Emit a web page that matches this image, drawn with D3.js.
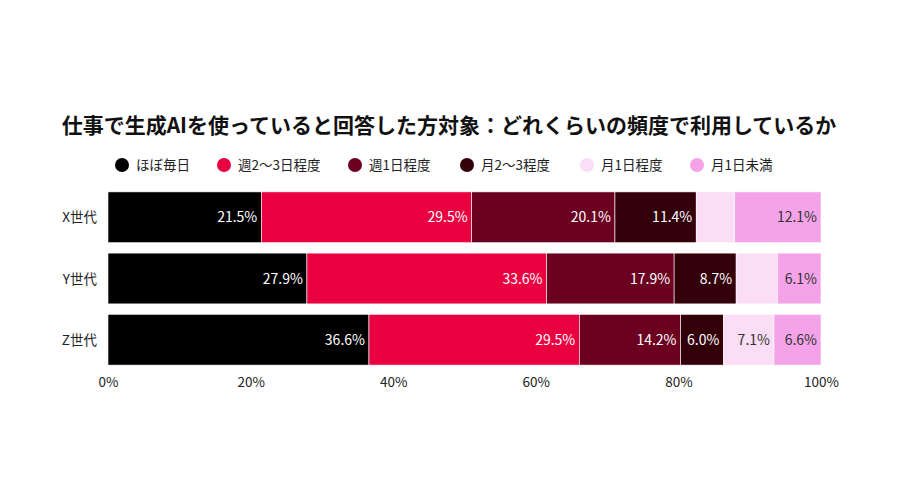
<!DOCTYPE html>
<html lang="ja">
<head>
<meta charset="utf-8">
<script src="https://cdn.jsdelivr.net/npm/d3@7"></script>
<style>
  body { margin: 0; background: #fff; }
  svg { font-family: "Noto Sans CJK JP", "Noto Sans", sans-serif; }
</style>
</head>
<body>
<script>
var generations = ["X世代", "Y世代", "Z世代"];
var seriesNames = ["ほぼ毎日", "週2～3日程度", "週1日程度", "月2～3程度", "月1日程度", "月1日未満"];
var seriesColors = ["#000000", "#EA0040", "#6B0021", "#33000A", "#FBDDF6", "#F4A3E8"];
var labelColors = ["#fff", "#fff", "#fff", "#fff", "#333", "#333"];
var hotDaily   = [21.5, 27.9, 36.6];
var weekly23   = [29.5, 33.6, 29.5];
var weekly1    = [20.1, 17.9, 14.2];
var monthly23  = [11.4, 8.7, 6.0];
var monthly1   = [5.4, 5.8, 7.1];
var lessThan   = [12.1, 6.1, 6.6];
var showLabel  = [[true, true, true], [true, true, true], [true, true, true], [true, true, true], [false, false, true], [true, true, true]];
var tickValues = [0, 20, 40, 60, 80, 100];

var series = [hotDaily, weekly23, weekly1, monthly23, monthly1, lessThan];

var w = 900, h = 500;
var svg = d3.select("body").append("svg").attr("width", w).attr("height", h);

svg.append("text")
  .attr("x", 449).attr("y", 133)
  .attr("text-anchor", "middle")
  .attr("font-size", 21)
  .attr("font-weight", "bold")
  .attr("fill", "#111")
  .text("仕事で生成AIを使っていると回答した方対象：どれくらいの頻度で利用しているか");

// legend
var legendX = [122, 224, 355, 467, 587, 697];
var lg = svg.append("g").selectAll("g").data(seriesNames).enter().append("g")
  .attr("transform", function(d, i) { return "translate(" + legendX[i] + ",165)"; });
lg.append("circle").attr("r", 7).attr("fill", function(d, i) { return seriesColors[i]; });
lg.append("text").attr("x", 14).attr("y", 5).attr("font-size", 13.5).attr("fill", "#222").text(function(d) { return d; });

var x = d3.scaleLinear().domain([0, 100]).range([108, 821]);
var y = d3.scaleBand().domain(generations).range([187, 370]).paddingInner(0.17).paddingOuter(0.08);

var rows = generations.map(function(g, gi) {
  var acc = 0;
  return series.map(function(s, si) {
    var seg = { gen: g, si: si, gi: gi, v: s[gi], x0: acc, x1: acc + s[gi] };
    acc += s[gi];
    return seg;
  });
});

var segs = svg.append("g").selectAll("g").data(d3.merge(rows)).enter().append("g");
segs.append("rect")
  .attr("x", function(d) { return x(d.x0); })
  .attr("y", function(d) { return y(d.gen); })
  .attr("width", function(d) { return x(d.x1) - x(d.x0); })
  .attr("height", y.bandwidth())
  .attr("fill", function(d) { return seriesColors[d.si]; })
  .attr("stroke", "#fff").attr("stroke-width", 0.6);

segs.filter(function(d) { return showLabel[d.si][d.gi]; })
  .append("text")
  .attr("x", function(d) { return x(d.x1) - 4; })
  .attr("y", function(d) { return y(d.gen) + y.bandwidth() / 2 + 5; })
  .attr("text-anchor", "end")
  .attr("font-size", 14)
  .attr("fill", function(d) { return labelColors[d.si]; })
  .text(function(d) { return d.v.toFixed(1) + "%"; });

// y labels
svg.append("g").selectAll("text").data(generations).enter().append("text")
  .attr("x", 97).attr("y", function(d) { return y(d) + y.bandwidth() / 2 + 5; })
  .attr("text-anchor", "end").attr("font-size", 13.5).attr("fill", "#222")
  .text(function(d) { return d; });

// x axis
var xAxis = svg.append("g").attr("transform", "translate(0,370)")
  .call(d3.axisBottom(x).tickValues(tickValues).tickSize(0).tickFormat(function(d) { return d + "%"; }));
xAxis.select(".domain").remove();
xAxis.selectAll("text").attr("font-size", 13.5).attr("fill", "#222").attr("dy", "1.05em")
  .style("font-family", "\"Noto Sans CJK JP\", sans-serif");
</script>
</body>
</html>
